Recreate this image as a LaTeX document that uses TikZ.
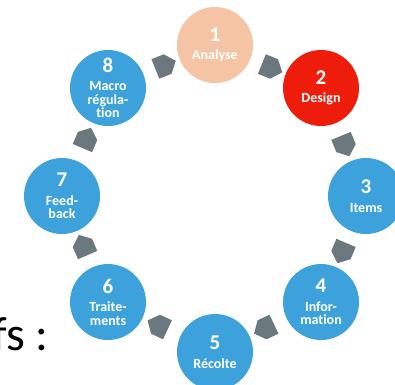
\documentclass[tikz,border=0pt]{standalone}
\usepackage{fontspec}
\setmainfont{Carlito}[Ligatures=NoCommon]
\usetikzlibrary{shapes.arrows}
\definecolor{stageblue}{HTML}{3DA2DB}
\definecolor{stagered}{HTML}{EE1C0A}
\definecolor{stagepeach}{HTML}{F4C4A4}
\definecolor{arrowgray}{HTML}{6B787D}
\newcommand{\stagenum}[1]{{\fontsize{21}{21}\selectfont #1}\\[5pt]}
\begin{document}
\begin{tikzpicture}[x=1pt,y=-1pt,
  stage/.style={circle, minimum size=76pt, inner sep=0pt, fill=stageblue,
    text=white, align=center, font=\bfseries\fontsize{14}{13.5}\selectfont},
  flow/.style={single arrow, fill=arrowgray, draw=none, minimum height=22pt,
    minimum width=21pt, single arrow head extend=0pt, single arrow tip angle=100,
    inner sep=0pt, sloped, allow upside down}]
\useasboundingbox (0,0) rectangle (395,384);
\begin{scope}
\clip (0,0) rectangle (395,384);
% the eight stages of the cycle
\node[stage, fill=stagepeach] (s1) at (215,45)  {\stagenum{1}Analyse};
\node[stage, fill=stagered]   (s2) at (321,88)  {\stagenum{2}Design};
\node[stage]                  (s3) at (366,196) {\stagenum{3}Items};
\node[stage]                  (s4) at (321,302) {\stagenum{4}Infor-\\mation};
\node[stage]                  (s5) at (215,352) {\stagenum{5}Récolte};
\node[stage]                  (s6) at (108,302) {\stagenum{6}Traite-\\ments};
\node[stage]                  (s7) at (62,196)  {\stagenum{7}Feed-\\back};
\node[stage]                  (s8) at (108,88)  {\stagenum{8}Macro\\régula-\\tion};
% block arrows between consecutive stages
\foreach \a/\b in {s1/s2,s2/s3,s3/s4,s4/s5,s5/s6,s6/s7,s7/s8,s8/s1}
  \path (\a.center) -- (\b.center) node[flow, midway] (f\a) {};
% text running in from the left
\node[anchor=base east, font=\fontsize{48}{48}\selectfont, text=black, inner sep=0pt]
  (caption) at (49,350) {fs :};
\end{scope}
\end{tikzpicture}
\end{document}
